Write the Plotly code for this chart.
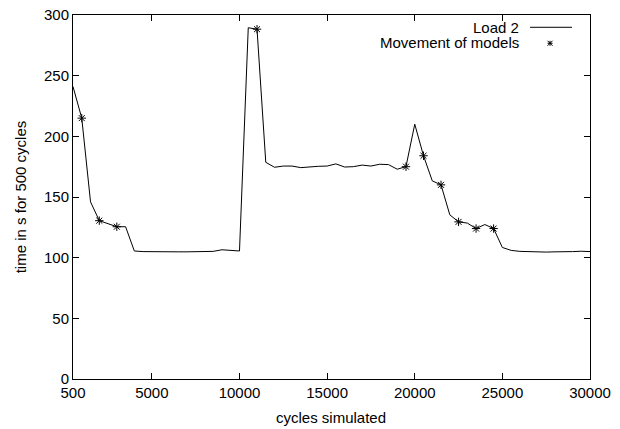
import plotly.graph_objects as go

# ---- data ----
cycles = [500, 1000, 1500, 2000, 2500, 3000, 3500, 4000, 4500, 5000,
          5500, 6000, 6500, 7000, 7500, 8000, 8500, 9000, 9500, 10000,
          10500, 11000, 11500, 12000, 12500, 13000, 13500, 14000, 14500, 15000,
          15500, 16000, 16500, 17000, 17500, 18000, 18500, 19000, 19500, 20000,
          20500, 21000, 21500, 22000, 22500, 23000, 23500, 24000, 24500, 25000,
          25500, 26000, 26500, 27000, 27500, 28000, 28500, 29000, 29500, 30000]
load2 = [241, 215, 146, 130.5, 128, 125.5, 125.5, 105.5, 105, 104.8,
         104.8, 104.8, 104.8, 104.8, 104.9, 105, 105.2, 106.5, 105.8, 105.5,
         289.5, 288.3, 178.6, 174.5, 175.5, 175.5, 174.2, 175, 175.3, 175.5,
         177.3, 174.7, 175, 176.3, 175.5, 177, 176.7, 172.9, 175, 210,
         184, 163.3, 160, 135.3, 129.5, 128.5, 124, 127.3, 124, 108.4,
         106, 105.2, 104.8, 104.7, 104.6, 104.8, 104.6, 105, 105.3, 105]
move_cycles = [1000, 2000, 3000, 11000, 19500, 20500, 21500, 22500, 23500, 24500]
move_vals = [load2[cycles.index(c)] for c in move_cycles]

x_ticks = [500, 5000, 10000, 15000, 20000, 25000, 30000]
y_ticks = [0, 50, 100, 150, 200, 250, 300]

W, H = 620, 429
PL, PR, PT, PB = 72.5, 590, 15, 379.5       # plot area in pixels
PW, PH = PR - PL, PB - PT

FONT = "Liberation Sans, Arial, sans-serif"
FS = 15

fig = go.Figure()
fig.add_trace(go.Scatter(x=cycles, y=load2, mode="lines", name="Load 2",
                         line=dict(color="black", width=1), showlegend=False))
fig.add_trace(go.Scatter(x=move_cycles, y=move_vals, mode="markers",
                         name="Movement of models",
                         marker=dict(symbol="asterisk-open", size=7, color="black",
                                     line=dict(color="black", width=1)),
                         showlegend=False))

axis_common = dict(showgrid=False, zeroline=False, showline=True, linecolor="black",
                   linewidth=1, mirror="ticks", ticks="inside", ticklen=6,
                   tickcolor="black", ticklabeloverflow="allow", automargin=False,
                   tickfont=dict(family=FONT, size=FS, color="black"))

fig.update_xaxes(range=[500, 30000], tickvals=x_ticks, ticktext=[str(v) for v in x_ticks],
                 **axis_common)
fig.update_yaxes(range=[0, 300], tickvals=y_ticks, ticktext=[str(v) for v in y_ticks],
                 **axis_common)

def px(xp):
    return (xp - PL) / PW

def py(yp):
    return (PB - yp) / PH

# axis titles
fig.add_annotation(x=px(331), y=py(418), xref="paper", yref="paper", text="cycles simulated",
                   showarrow=False, xanchor="center", yanchor="middle",
                   font=dict(family=FONT, size=FS, color="black"))
fig.add_annotation(x=px(20), y=py(197), xref="paper", yref="paper", text="time in s for 500 cycles",
                   showarrow=False, xanchor="center", yanchor="middle", textangle=-90,
                   font=dict(family=FONT, size=FS, color="black"))

# manual gnuplot-style legend (text right-justified, key on the right)
fig.add_annotation(x=px(521), y=py(27.5), xref="paper", yref="paper", text="Load 2",
                   showarrow=False, xanchor="right", yanchor="middle",
                   font=dict(family=FONT, size=FS, color="black"))
fig.add_annotation(x=px(521), y=py(43), xref="paper", yref="paper", text="Movement of models",
                   showarrow=False, xanchor="right", yanchor="middle",
                   font=dict(family=FONT, size=FS, color="black"))
fig.add_shape(type="line", xref="paper", yref="paper", x0=px(530), x1=px(572),
              y0=py(27.3), y1=py(27.3), line=dict(color="black", width=1))
cx, cy, s = 550, 43.3, 2.5
for (dx0, dy0, dx1, dy1) in [(-s, 0, s, 0), (0, -s, 0, s), (-s, -s, s, s), (-s, s, s, -s)]:
    fig.add_shape(type="line", xref="paper", yref="paper",
                  x0=px(cx + dx0), y0=py(cy + dy0), x1=px(cx + dx1), y1=py(cy + dy1),
                  line=dict(color="black", width=1))

fig.update_layout(width=W, height=H,
                  margin=dict(l=PL, r=W - PR, t=PT, b=H - PB),
                  plot_bgcolor="white", paper_bgcolor="white",
                  font=dict(family=FONT, size=FS, color="black"))

fig.write_html("out.html", config={"displayModeBar": False},
               post_script="document.body.style.margin='0';document.body.style.overflow='hidden';")
